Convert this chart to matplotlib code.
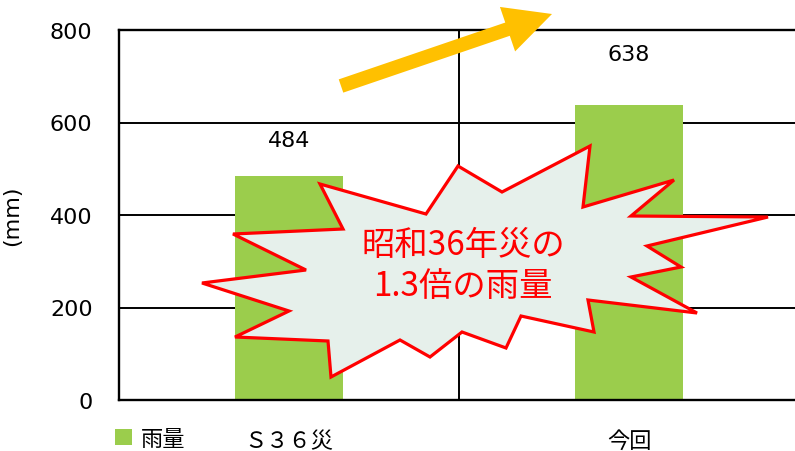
import matplotlib
matplotlib.use("Agg")
import matplotlib.pyplot as plt
from matplotlib.patches import Polygon, FancyArrow

plt.rcParams['font.family'] = ['DejaVu Sans', 'Noto Sans CJK JP']

## data
categories = ['Ｓ３６災', '今回']
rainfall = [484, 638]
series_name = '雨量'
y_ticks = [0, 200, 400, 600, 800]
y_label = '(mm)'
callout_text = '昭和36年災の\n1.3倍の雨量'

## decoration shapes (figure pixels, y down)
burst = [(320, 185), (426, 215), (458, 167), (502, 193), (590, 147), (583, 208),
         (674, 181), (631, 217), (768, 218), (647, 247), (681, 268), (631, 278),
         (697, 314), (588, 301), (594, 333), (521, 317), (506, 349), (462, 333),
         (430, 358), (400, 341), (331, 378), (328, 342), (235, 338), (289, 312),
         (202, 284), (306, 271), (233, 235), (343, 230)]
arrow_tail = (341, 87)
arrow_tip = (552, 15)

bar_color = '#9BCD4C'
label_pad = [26, 37]   # points above each bar

fig = plt.figure(figsize=(7.95, 4.52), dpi=100)
fig.patch.set_facecolor('white')
ax = fig.add_axes([119/795, 51/452, 680/795, 370/452])

x = range(len(categories))
bars = ax.bar(x, rainfall, width=0.315, color=bar_color, label=series_name, zorder=2)

ax.set_xlim(-0.5, 1.5)
ax.set_ylim(0, 800)
ax.set_yticks(y_ticks)
ax.set_xticks(list(x))
ax.set_xticklabels(categories, fontsize=16)
ax.tick_params(axis='y', length=0, pad=19, labelsize=16)
ax.tick_params(axis='x', length=0, pad=22)
ax.set_xticks([0.5, 1.5], minor=True)
ax.tick_params(axis='x', which='minor', length=0)
ax.set_axisbelow(True)
ax.grid(axis='y', color='black', linewidth=1.4)
ax.grid(axis='x', which='minor', color='black', linewidth=1.4)
for side in ['left', 'bottom', 'top']:
    ax.spines[side].set_linewidth(1.7)
ax.spines['right'].set_visible(False)

ax.set_ylabel(y_label, fontsize=16)
ax.yaxis.set_label_coords(-0.143, 0.5)

for rect, v, pad in zip(bars, rainfall, label_pad):
    ax.annotate(str(v), (rect.get_x() + rect.get_width()/2, v),
                xytext=(0, pad), textcoords='offset points',
                ha='center', va='center', fontsize=16)

fig.legend(handles=[bars], labels=[series_name], loc='center left',
           bbox_to_anchor=(115/795, 12/452), frameon=False, fontsize=16,
           handlelength=0.75, handleheight=0.75, handletextpad=0.4,
           borderpad=0, borderaxespad=0)

## overlay for the callout and arrow
ov = fig.add_axes([0, 0, 1, 1], zorder=5)
ov.set_xlim(0, 795)
ov.set_ylim(452, 0)
ov.axis('off')
ov.patch.set_alpha(0)

ov.add_patch(FancyArrow(arrow_tail[0], arrow_tail[1],
                        arrow_tip[0]-arrow_tail[0], arrow_tip[1]-arrow_tail[1],
                        width=14, head_width=47, head_length=47,
                        length_includes_head=True, color='#FFC000', lw=0))
ov.add_patch(Polygon(burst, closed=True, facecolor='#E6F0EB',
                     edgecolor='#FF0000', linewidth=2.3, joinstyle='miter'))
ov.text(463, 266, callout_text, ha='center', va='center', color='#FF0000',
        fontsize=24, linespacing=1.25, family=['Noto Sans CJK JP'])

fig.savefig('out.png', dpi=100)
